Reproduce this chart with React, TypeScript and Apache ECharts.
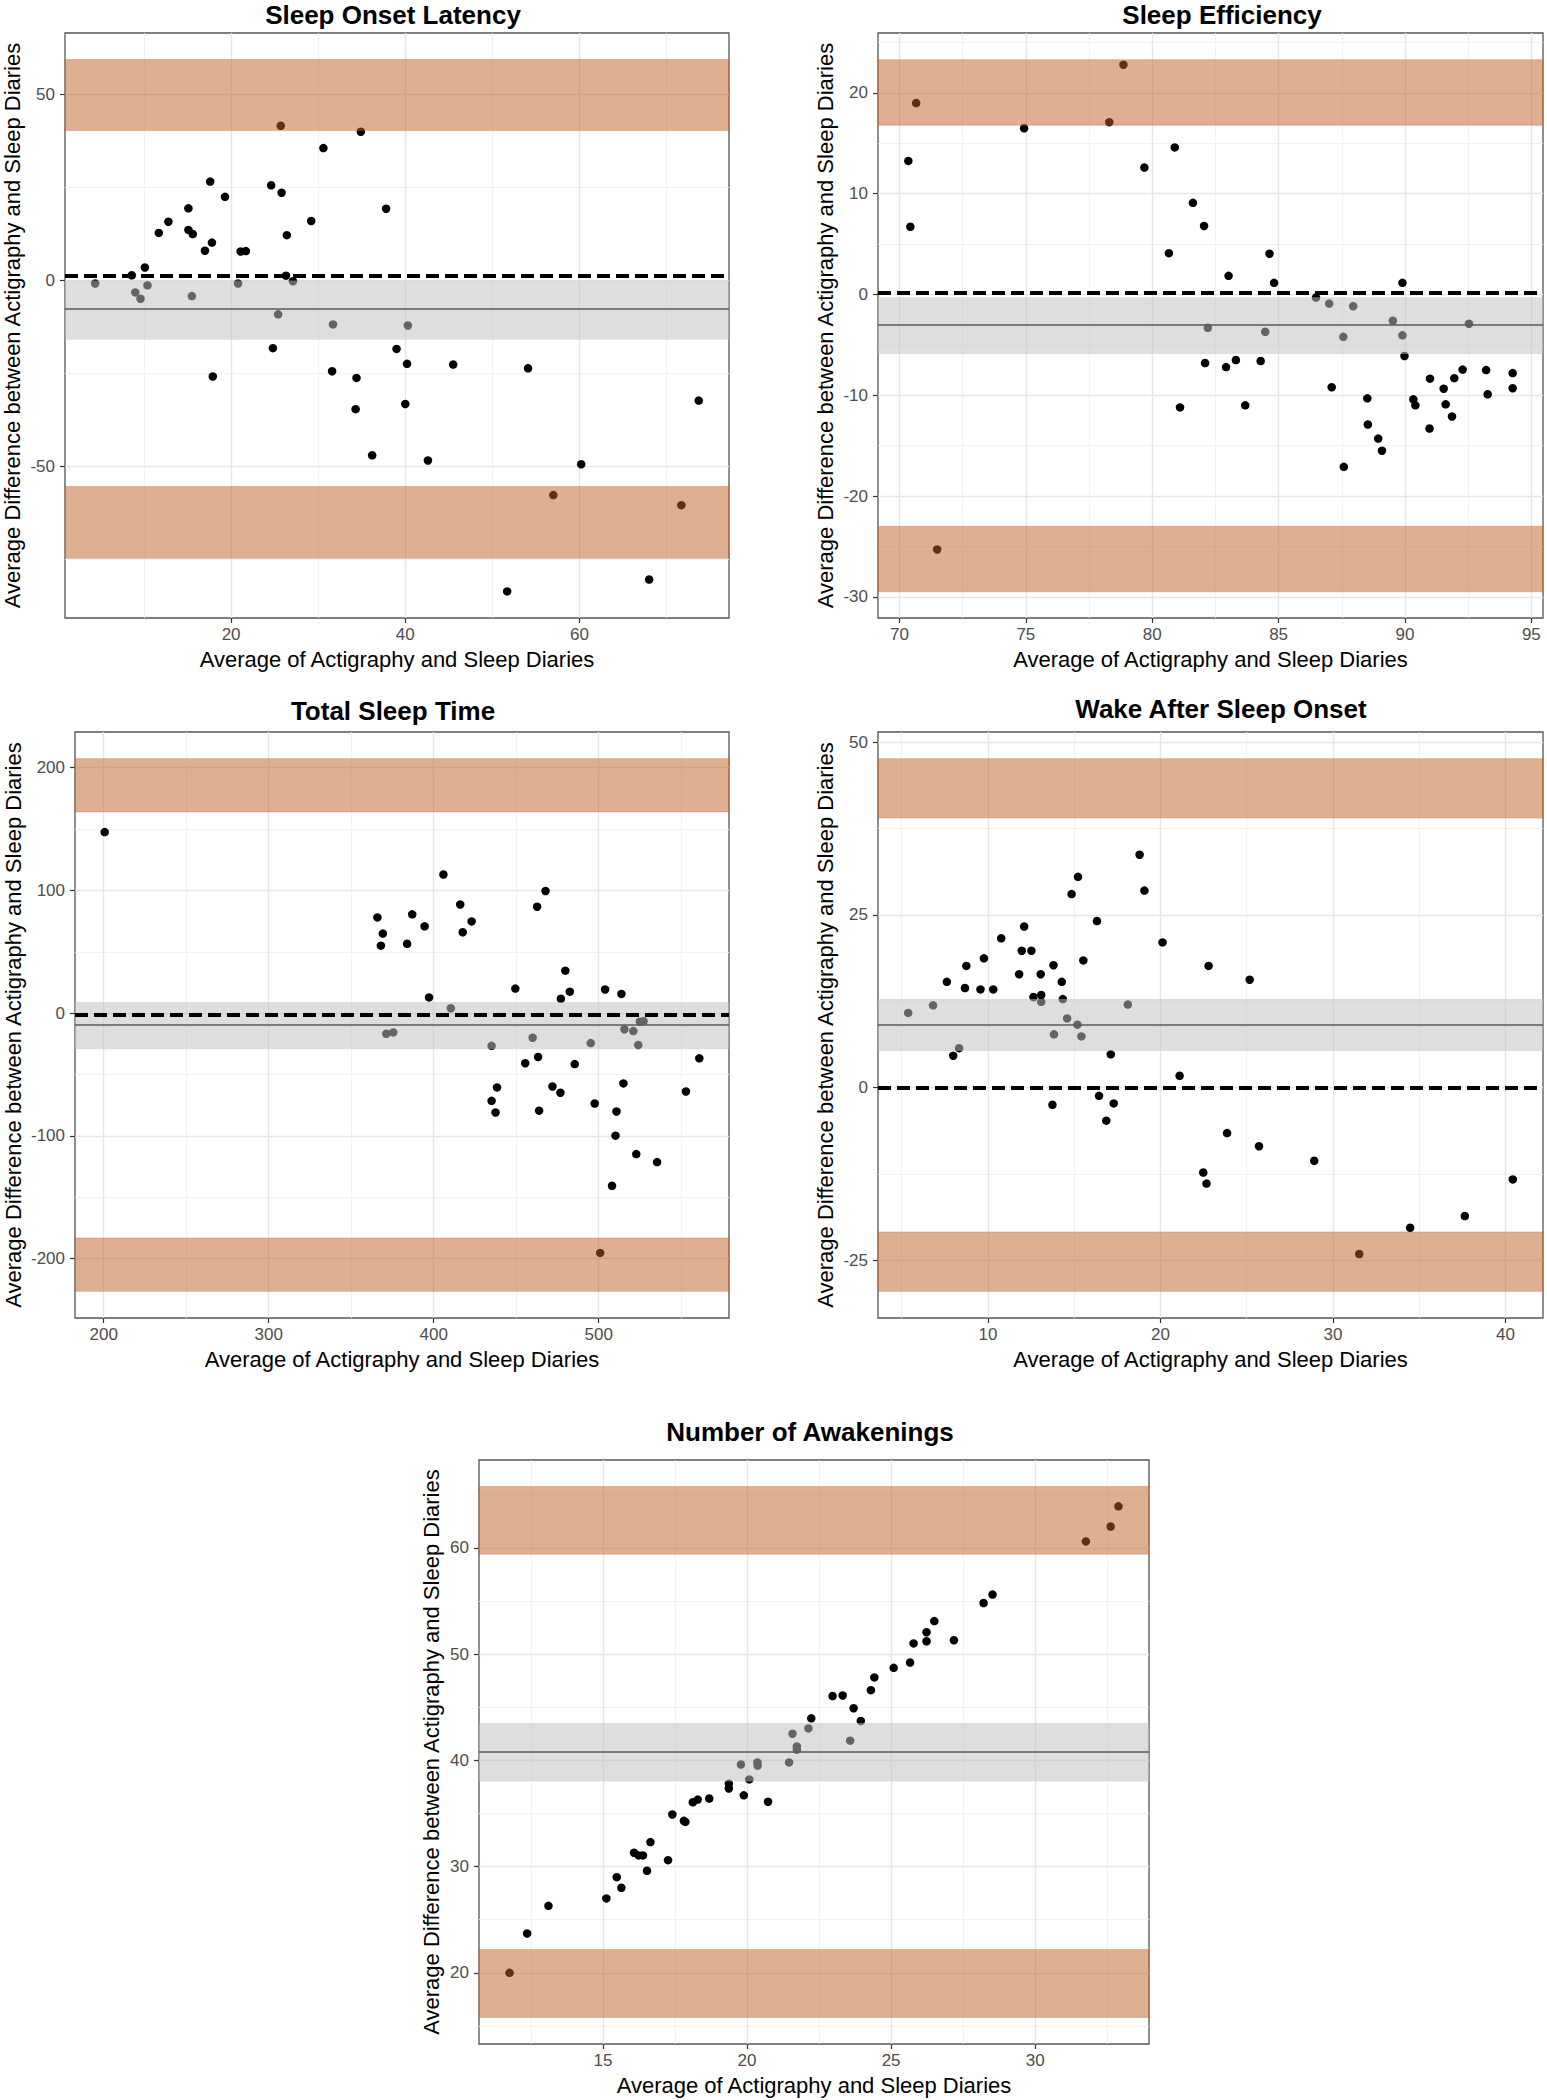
import React, { useEffect, useRef } from 'react';
import * as echarts from 'echarts';

const FONT = '"Liberation Sans", Arial, Helvetica, sans-serif';
const X_NAME = 'Average of Actigraphy and Sleep Diaries';
const Y_NAME = 'Average Difference between Actigraphy and Sleep Diaries';

// ---- Sleep Onset Latency ----
const solX = [4.4, 8.6, 9.0, 9.6, 10.1, 10.4, 11.7, 12.8, 15.1, 15.1, 15.6, 15.5, 17.0, 17.6, 17.8, 17.9, 19.3, 20.8, 21.1, 21.7, 24.6, 24.8, 25.4, 25.7, 25.8, 26.4, 26.3, 27.1, 29.2, 30.6, 31.6, 31.7, 34.3, 34.4, 34.9, 36.2, 37.8, 39.0, 40.0, 40.2, 40.3, 42.6, 45.5, 51.7, 54.1, 57.0, 60.2, 68.0, 71.7, 73.7];
const solY = [-0.9, 1.3, -3.3, -5.0, 3.4, -1.4, 12.7, 15.7, 19.3, 13.5, 12.4, -4.3, 7.9, 26.5, 10.1, -25.9, 22.4, -0.9, 7.7, 7.8, 25.5, -18.3, -9.2, 41.5, 23.5, 12.1, 1.2, -0.3, 15.9, 35.5, -24.5, -11.9, -34.7, -26.3, 39.9, -47.1, 19.2, -18.5, -33.3, -22.5, -12.2, -48.5, -22.7, -83.7, -23.7, -57.8, -49.5, -80.5, -60.5, -32.4];
const solXTicks = [20, 40, 60];
const solXMinor = [10, 30, 50, 70];
const solYTicks = [-50, 0, 50];
const solYMinor = [-75, -25, 25];
const solXLim = [0.93, 77.17];
const solYLim = [-90.85, 66.45];
const solUpper = [40.2, 59.3];
const solLower = [-74.8, -55.5];
const solCI = [-16.0, -0.1];
const solMean = -7.7;
const solRef = 1.2;

// ---- Sleep Efficiency ----
const seX = [70.35, 70.43, 70.66, 71.49, 74.93, 78.3, 78.86, 79.69, 80.66, 80.89, 81.1, 81.61, 82.05, 82.09, 82.2, 82.92, 83.02, 83.31, 83.68, 84.29, 84.47, 84.64, 84.82, 86.48, 87.0, 87.1, 87.56, 87.58, 87.95, 88.51, 88.53, 88.94, 89.09, 89.52, 89.9, 89.9, 89.98, 90.33, 90.41, 90.97, 90.99, 91.53, 91.61, 91.86, 91.95, 92.28, 92.53, 93.21, 93.27, 94.26, 94.26];
const seY = [13.26, 6.72, 19.0, -25.3, 16.5, 17.1, 22.8, 12.6, 4.1, 14.6, -11.2, 9.1, 6.8, -6.8, -3.3, -7.2, 1.85, -6.5, -11.0, -6.6, -3.7, 4.05, 1.16, -0.3, -0.9, -9.2, -4.2, -17.1, -1.16, -10.3, -12.9, -14.3, -15.5, -2.6, -4.05, 1.16, -6.1, -10.4, -11.0, -13.3, -8.35, -9.35, -10.9, -12.1, -8.3, -7.45, -2.9, -7.5, -9.9, -7.8, -9.3];
const seXTicks = [70, 75, 80, 85, 90, 95];
const seXMinor = [72.5, 77.5, 82.5, 87.5, 92.5];
const seYTicks = [-30, -20, -10, 0, 10, 20];
const seYMinor = [-25, -15, -5, 5, 15, 25];
const seXLim = [69.15, 95.46];
const seYLim = [-32.1, 25.95];
const seUpper = [16.8, 23.3];
const seLower = [-29.5, -23.0];
const seCI = [-5.9, -0.26];
const seMean = -3.0;
const seRef = 0.13;

// ---- Total Sleep Time ----
const tstX = [200.6, 365.9, 368.0, 369.2, 371.3, 375.5, 383.9, 387.0, 394.5, 397.2, 405.9, 410.4, 416.1, 417.6, 423.0, 435.1, 435.1, 437.5, 438.4, 449.5, 455.5, 460.0, 462.7, 463.3, 463.9, 467.8, 472.0, 476.8, 477.1, 479.8, 482.5, 485.5, 495.2, 497.6, 500.9, 503.9, 508.1, 510.2, 510.8, 513.8, 515.0, 515.6, 521.0, 522.8, 524.0, 525.0, 527.2, 535.4, 552.9, 561.0];
const tstY = [147.5, 78.0, 55.0, 64.8, -16.8, -15.7, 56.5, 80.5, 70.7, 12.8, 112.9, 4.0, 88.5, 65.9, 74.7, -26.6, -71.4, -80.9, -60.5, 20.0, -40.8, -20.0, 86.7, -35.7, -79.4, 99.5, -59.7, -64.8, 11.7, 34.6, 17.5, -41.5, -24.4, -73.6, -195.3, 19.3, -140.6, -99.8, -80.1, 15.7, -57.2, -13.1, -14.6, -114.8, -25.9, -7.0, -6.5, -121.3, -63.8, -36.8];
const tstXTicks = [200, 300, 400, 500];
const tstXMinor = [250, 350, 450, 550];
const tstYTicks = [-200, -100, 0, 100, 200];
const tstYMinor = [-150, -50, 50, 150];
const tstXLim = [182.6, 579.0];
const tstYLim = [-248.3, 229.0];
const tstUpper = [163.9, 207.3];
const tstLower = [-226.6, -183.2];
const tstCI = [-29.5, 9.1];
const tstMean = -9.8;
const tstRef = -1.5;

// ---- Wake After Sleep Onset ----
const wasoX = [5.38, 6.82, 7.62, 7.99, 8.33, 8.67, 8.75, 9.57, 9.77, 10.31, 10.77, 11.81, 11.96, 12.1, 12.52, 12.64, 13.06, 13.09, 13.09, 13.74, 13.8, 13.83, 14.28, 14.34, 14.59, 14.85, 15.19, 15.22, 15.42, 15.53, 16.32, 16.44, 16.86, 17.12, 17.29, 18.11, 18.79, 19.07, 20.12, 21.11, 22.48, 22.67, 22.79, 23.86, 25.17, 25.71, 28.91, 31.52, 34.47, 37.64, 40.42];
const wasoY = [10.8, 11.9, 15.3, 4.6, 5.7, 14.4, 17.6, 14.2, 18.7, 14.2, 21.6, 16.4, 19.8, 23.3, 19.8, 13.1, 16.4, 13.4, 12.4, -2.5, 17.7, 7.7, 15.3, 12.8, 10.0, 28.0, 9.1, 30.5, 7.4, 18.4, 24.1, -1.2, -4.8, 4.8, -2.3, 12.0, 33.7, 28.5, 21.0, 1.7, -12.3, -13.9, 17.6, -6.6, 15.6, -8.5, -10.6, -24.1, -20.3, -18.6, -13.3];
const wasoXTicks = [10, 20, 30, 40];
const wasoXMinor = [5, 15, 25, 35];
const wasoYTicks = [-25, 0, 25, 50];
const wasoYMinor = [-12.5, 12.5, 37.5];
const wasoXLim = [3.63, 42.17];
const wasoYLim = [-33.36, 51.46];
const wasoUpper = [39.0, 47.6];
const wasoLower = [-29.5, -20.9];
const wasoCI = [5.3, 12.8];
const wasoMean = 9.1;
const wasoRef = 0;

// ---- Number of Awakenings ----
const noaX = [11.76, 12.37, 13.11, 15.12, 15.48, 15.64, 16.08, 16.24, 16.39, 16.53, 16.65, 17.26, 17.41, 17.81, 17.86, 18.12, 18.29, 18.69, 19.37, 19.37, 19.79, 19.89, 20.08, 20.36, 20.37, 20.73, 21.46, 21.58, 21.73, 21.73, 22.13, 22.23, 22.97, 23.32, 23.58, 23.7, 23.95, 24.3, 24.42, 25.09, 25.66, 25.78, 26.23, 26.23, 26.5, 27.18, 28.21, 28.52, 31.76, 32.62, 32.89];
const noaY = [20.0, 23.7, 26.3, 27.0, 29.0, 28.0, 31.3, 31.05, 31.05, 29.6, 32.3, 30.6, 34.9, 34.3, 34.2, 36.05, 36.3, 36.4, 37.8, 37.35, 39.6, 36.7, 38.2, 39.8, 39.5, 36.1, 39.8, 42.5, 41.3, 41.0, 43.0, 43.95, 46.05, 46.1, 41.85, 44.9, 43.7, 46.6, 47.8, 48.7, 49.2, 51.0, 52.05, 51.2, 53.1, 51.3, 54.8, 55.6, 60.6, 62.0, 63.9];
const noaXTicks = [15, 20, 25, 30];
const noaXMinor = [12.5, 17.5, 22.5, 27.5, 32.5];
const noaYTicks = [20, 30, 40, 50, 60];
const noaYMinor = [15, 25, 35, 45, 55, 65];
const noaXLim = [10.7, 33.95];
const noaYLim = [13.3, 68.26];
const noaUpper = [59.4, 65.76];
const noaLower = [15.8, 22.2];
const noaCI = [38.0, 43.5];
const noaMean = 40.76;
const noaRef: number | null = null;

const panels = [
  { title: 'Sleep Onset Latency', xs: solX, ys: solY, xT: solXTicks, xM: solXMinor, yT: solYTicks, yM: solYMinor, xL: solXLim, yL: solYLim, up: solUpper, lo: solLower, ci: solCI, mean: solMean, ref: solRef as number | null },
  { title: 'Sleep Efficiency', xs: seX, ys: seY, xT: seXTicks, xM: seXMinor, yT: seYTicks, yM: seYMinor, xL: seXLim, yL: seYLim, up: seUpper, lo: seLower, ci: seCI, mean: seMean, ref: seRef as number | null },
  { title: 'Total Sleep Time', xs: tstX, ys: tstY, xT: tstXTicks, xM: tstXMinor, yT: tstYTicks, yM: tstYMinor, xL: tstXLim, yL: tstYLim, up: tstUpper, lo: tstLower, ci: tstCI, mean: tstMean, ref: tstRef as number | null },
  { title: 'Wake After Sleep Onset', xs: wasoX, ys: wasoY, xT: wasoXTicks, xM: wasoXMinor, yT: wasoYTicks, yM: wasoYMinor, xL: wasoXLim, yL: wasoYLim, up: wasoUpper, lo: wasoLower, ci: wasoCI, mean: wasoMean, ref: wasoRef as number | null },
  { title: 'Number of Awakenings', xs: noaX, ys: noaY, xT: noaXTicks, xM: noaXMinor, yT: noaYTicks, yM: noaYMinor, xL: noaXLim, yL: noaYLim, up: noaUpper, lo: noaLower, ci: noaCI, mean: noaMean, ref: noaRef },
];

const layout = [
  { left: 65, top: 33, width: 664, height: 585, tx: 393, ty: 15, yGap: 42 },
  { left: 878, top: 33, width: 665, height: 585, tx: 1222, ty: 15, yGap: 42 },
  { left: 75, top: 732, width: 654, height: 586, tx: 393, ty: 711, yGap: 51 },
  { left: 878, top: 732, width: 665, height: 586, tx: 1221, ty: 709, yGap: 42 },
  { left: 479, top: 1460, width: 670, height: 584, tx: 810, ty: 1432, yGap: 37 },
];

const ORANGE = 'rgba(189,97,35,0.5)';
const GREYBAND = 'rgba(192,192,192,0.52)';
const MAJOR = { color: '#e6e6e6', width: 1.4, type: 'solid' };
const MINOR = { color: '#f0f0f0', width: 0.9, type: 'solid' };

function buildOption() {
  const grid: any[] = [];
  const xAxis: any[] = [];
  const yAxis: any[] = [];
  const series: any[] = [];
  const graphic: any[] = [];

  panels.forEach((p, i) => {
    const L = layout[i];
    grid.push({
      left: L.left, top: L.top, width: L.width, height: L.height,
      show: true, borderColor: '#555555', borderWidth: 1.3, backgroundColor: 'transparent', containLabel: false,
    });
    const labelStyle = { fontSize: 17, color: '#4d4d4d', fontFamily: FONT };
    xAxis.push({
      gridIndex: i, type: 'value', min: p.xL[0], max: p.xL[1],
      axisLine: { show: false, onZero: false },
      axisTick: { show: true, length: 5, lineStyle: { color: '#333333', width: 1.2 }, customValues: p.xT },
      axisLabel: { ...labelStyle, margin: 8, customValues: p.xT },
      splitLine: { show: false },
      name: X_NAME, nameLocation: 'middle', nameGap: 30,
      nameTextStyle: { fontSize: 22, color: '#000', fontFamily: FONT },
    });
    yAxis.push({
      gridIndex: i, type: 'value', min: p.yL[0], max: p.yL[1],
      axisLine: { show: false, onZero: false },
      axisTick: { show: true, length: 5, lineStyle: { color: '#333333', width: 1.2 }, customValues: p.yT },
      axisLabel: { ...labelStyle, margin: 10, customValues: p.yT },
      splitLine: { show: false },
      name: Y_NAME, nameLocation: 'middle', nameGap: L.yGap, nameRotate: 90,
      nameTextStyle: { fontSize: 22, color: '#000', fontFamily: FONT },
    });

    const gridLines = [
      ...p.xM.map((v) => ({ xAxis: v, lineStyle: MINOR })),
      ...p.yM.map((v) => ({ yAxis: v, lineStyle: MINOR })),
      ...p.xT.map((v) => ({ xAxis: v, lineStyle: MAJOR })),
      ...p.yT.map((v) => ({ yAxis: v, lineStyle: MAJOR })),
    ];

    series.push({
      type: 'scatter', xAxisIndex: i, yAxisIndex: i, z: 2, silent: true,
      symbolSize: 8.5, itemStyle: { color: '#000000', opacity: 1 },
      data: p.xs.map((x, k) => [x, p.ys[k]]),
      markLine: {
        z: 1, silent: true, symbol: ['none', 'none'], label: { show: false }, animation: false,
        emphasis: { disabled: true },
        data: gridLines,
      },
    });

    const refLines: any[] = [
      { yAxis: p.mean, lineStyle: { color: '#5a5a5a', width: 1.5, type: 'solid' } },
    ];
    if (p.ref !== null) {
      refLines.push({ yAxis: p.ref, lineStyle: { color: '#000000', width: 4, type: [13, 6] } });
    }

    series.push({
      type: 'scatter', xAxisIndex: i, yAxisIndex: i, z: 3, silent: true, data: [],
      markArea: {
        z: 3, silent: true, label: { show: false }, emphasis: { disabled: true },
        data: [
          [{ yAxis: p.up[0], itemStyle: { color: ORANGE, borderColor: 'rgba(200,105,50,0.35)', borderWidth: 1 } }, { yAxis: p.up[1] }],
          [{ yAxis: p.lo[0], itemStyle: { color: ORANGE, borderColor: 'rgba(200,105,50,0.35)', borderWidth: 1 } }, { yAxis: p.lo[1] }],
          [{ yAxis: p.ci[0], itemStyle: { color: GREYBAND } }, { yAxis: p.ci[1] }],
        ],
      },
      markLine: {
        z: 4, silent: true, symbol: ['none', 'none'], label: { show: false }, animation: false,
        emphasis: { disabled: true },
        data: refLines,
      },
    });

    graphic.push({
      type: 'text', x: L.tx, y: L.ty, z: 10,
      style: {
        text: p.title, font: `bold 26px ${FONT}`, fill: '#000',
        align: 'center', verticalAlign: 'middle', textAlign: 'center', textVerticalAlign: 'middle',
      },
    });
  });

  return {
    animation: false,
    backgroundColor: '#ffffff',
    textStyle: { fontFamily: FONT },
    grid, xAxis, yAxis, series, graphic,
  };
}

export default function App() {
  const ref = useRef<HTMLDivElement>(null);
  useEffect(() => {
    document.body.style.margin = '0';
    const chart = echarts.init(ref.current!, null, { renderer: 'svg' });
    chart.setOption(buildOption() as any);
    return () => chart.dispose();
  }, []);
  return <div ref={ref} style={{ width: 1547, height: 2100 }} />;
}
